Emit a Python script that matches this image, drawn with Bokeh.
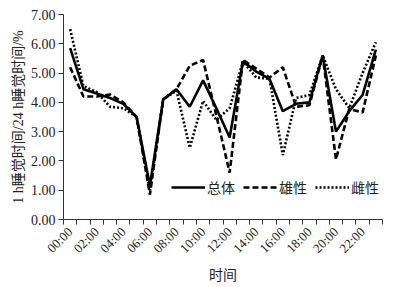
import numpy as np
from bokeh.plotting import figure
from bokeh.models import Range1d, FixedTicker, Legend, LegendItem, NumeralTickFormatter
from bokeh.embed import file_html
from bokeh.resources import INLINE

hours = ["%02d:00" % h for h in range(24)]
total = [5.85, 4.45, 4.3, 4.15, 3.95, 3.5, 1.15, 4.1, 4.45, 3.85, 4.75, 3.8,
         2.8, 5.4, 5.05, 4.8, 3.7, 3.95, 4.0, 5.6, 3.0, 3.7, 4.25, 5.8]
male = [5.2, 4.2, 4.2, 4.27, 4.0, 3.5, 0.85, 4.1, 4.45, 5.25, 5.45, 3.55,
        1.6, 5.45, 5.15, 4.85, 5.2, 3.85, 3.9, 5.6, 2.05, 3.78, 3.65, 5.6]
female = [6.5, 4.55, 4.35, 3.85, 3.8, 3.5, 1.0, 4.1, 4.4, 2.45, 4.05, 3.4,
          3.8, 5.4, 4.85, 4.8, 2.2, 4.15, 4.25, 5.6, 4.45, 3.8, 5.0, 6.05]
series_names = ["总体", "雄性", "雌性"]
y_ticks = [0, 1, 2, 3, 4, 5, 6, 7]

FONT = "Liberation Serif, 'Noto Sans CJK SC', serif"

x = np.arange(len(hours)) + 0.5

p = figure(width=414, height=287, output_backend="svg", toolbar_location=None,
           x_range=Range1d(0, len(hours)), y_range=Range1d(0, 7),
           min_border_left=63, min_border_right=32, min_border_top=14,
           min_border_bottom=68)
p.outline_line_color = None
p.xgrid.visible = False
p.ygrid.visible = False
p.background_fill_color = "white"

r1 = p.line(x, total, line_color="black", line_width=2.6)
r2 = p.line(x, male, line_color="black", line_width=2.6, line_dash="6 3")
r3 = p.line(x, female, line_color="black", line_width=2.6, line_dash="2 2")

# y axis
ya = p.yaxis[0]
ya.ticker = FixedTicker(ticks=y_ticks)
ya.formatter = NumeralTickFormatter(format="0.00")
ya.major_tick_in = 0
ya.major_tick_out = 5
ya.minor_tick_line_color = None
ya.axis_line_color = "#333333"
ya.major_tick_line_color = "#333333"
ya.major_label_text_font = FONT
ya.major_label_text_font_size = "14px"
ya.major_label_text_color = "#222222"
ya.major_label_standoff = 3
ya.axis_label = "1 h睡觉时间/24 h睡觉时间/%"
ya.axis_label_text_font = FONT
ya.axis_label_text_font_size = "14px"
ya.axis_label_text_font_style = "normal"
ya.axis_label_text_color = "#222222"
ya.axis_label_standoff = 2

# x axis
xa = p.xaxis[0]
centers = [float(v) for v in x[::2]]
xa.ticker = FixedTicker(ticks=centers, minor_ticks=list(range(len(hours) + 1)))
xa.major_label_overrides = {c: hours[i * 2] for i, c in enumerate(centers)}
xa.major_tick_line_color = None
xa.minor_tick_line_color = "#333333"
xa.minor_tick_in = 0
xa.minor_tick_out = 5
xa.axis_line_color = "#333333"
xa.major_label_orientation = np.pi / 4
xa.major_label_text_font = FONT
xa.major_label_text_font_size = "13px"
xa.major_label_text_color = "#222222"
xa.major_label_standoff = 4
xa.axis_label = "时间"
xa.axis_label_text_font = FONT
xa.axis_label_text_font_size = "14px"
xa.axis_label_text_font_style = "normal"
xa.axis_label_text_color = "#222222"
xa.axis_label_standoff = 4

legend = Legend(items=[LegendItem(label=series_names[0], renderers=[r1]),
                       LegendItem(label=series_names[1], renderers=[r2]),
                       LegendItem(label=series_names[2], renderers=[r3])],
                orientation="horizontal", location=(108, 22),
                background_fill_alpha=0, border_line_color=None,
                label_text_font=FONT, label_text_font_size="14px",
                label_text_color="#222222", glyph_width=34, glyph_height=12,
                label_standoff=2, spacing=8, padding=0, margin=0)
p.add_layout(legend)

open("out.html", "w").write(file_html(p, INLINE))
